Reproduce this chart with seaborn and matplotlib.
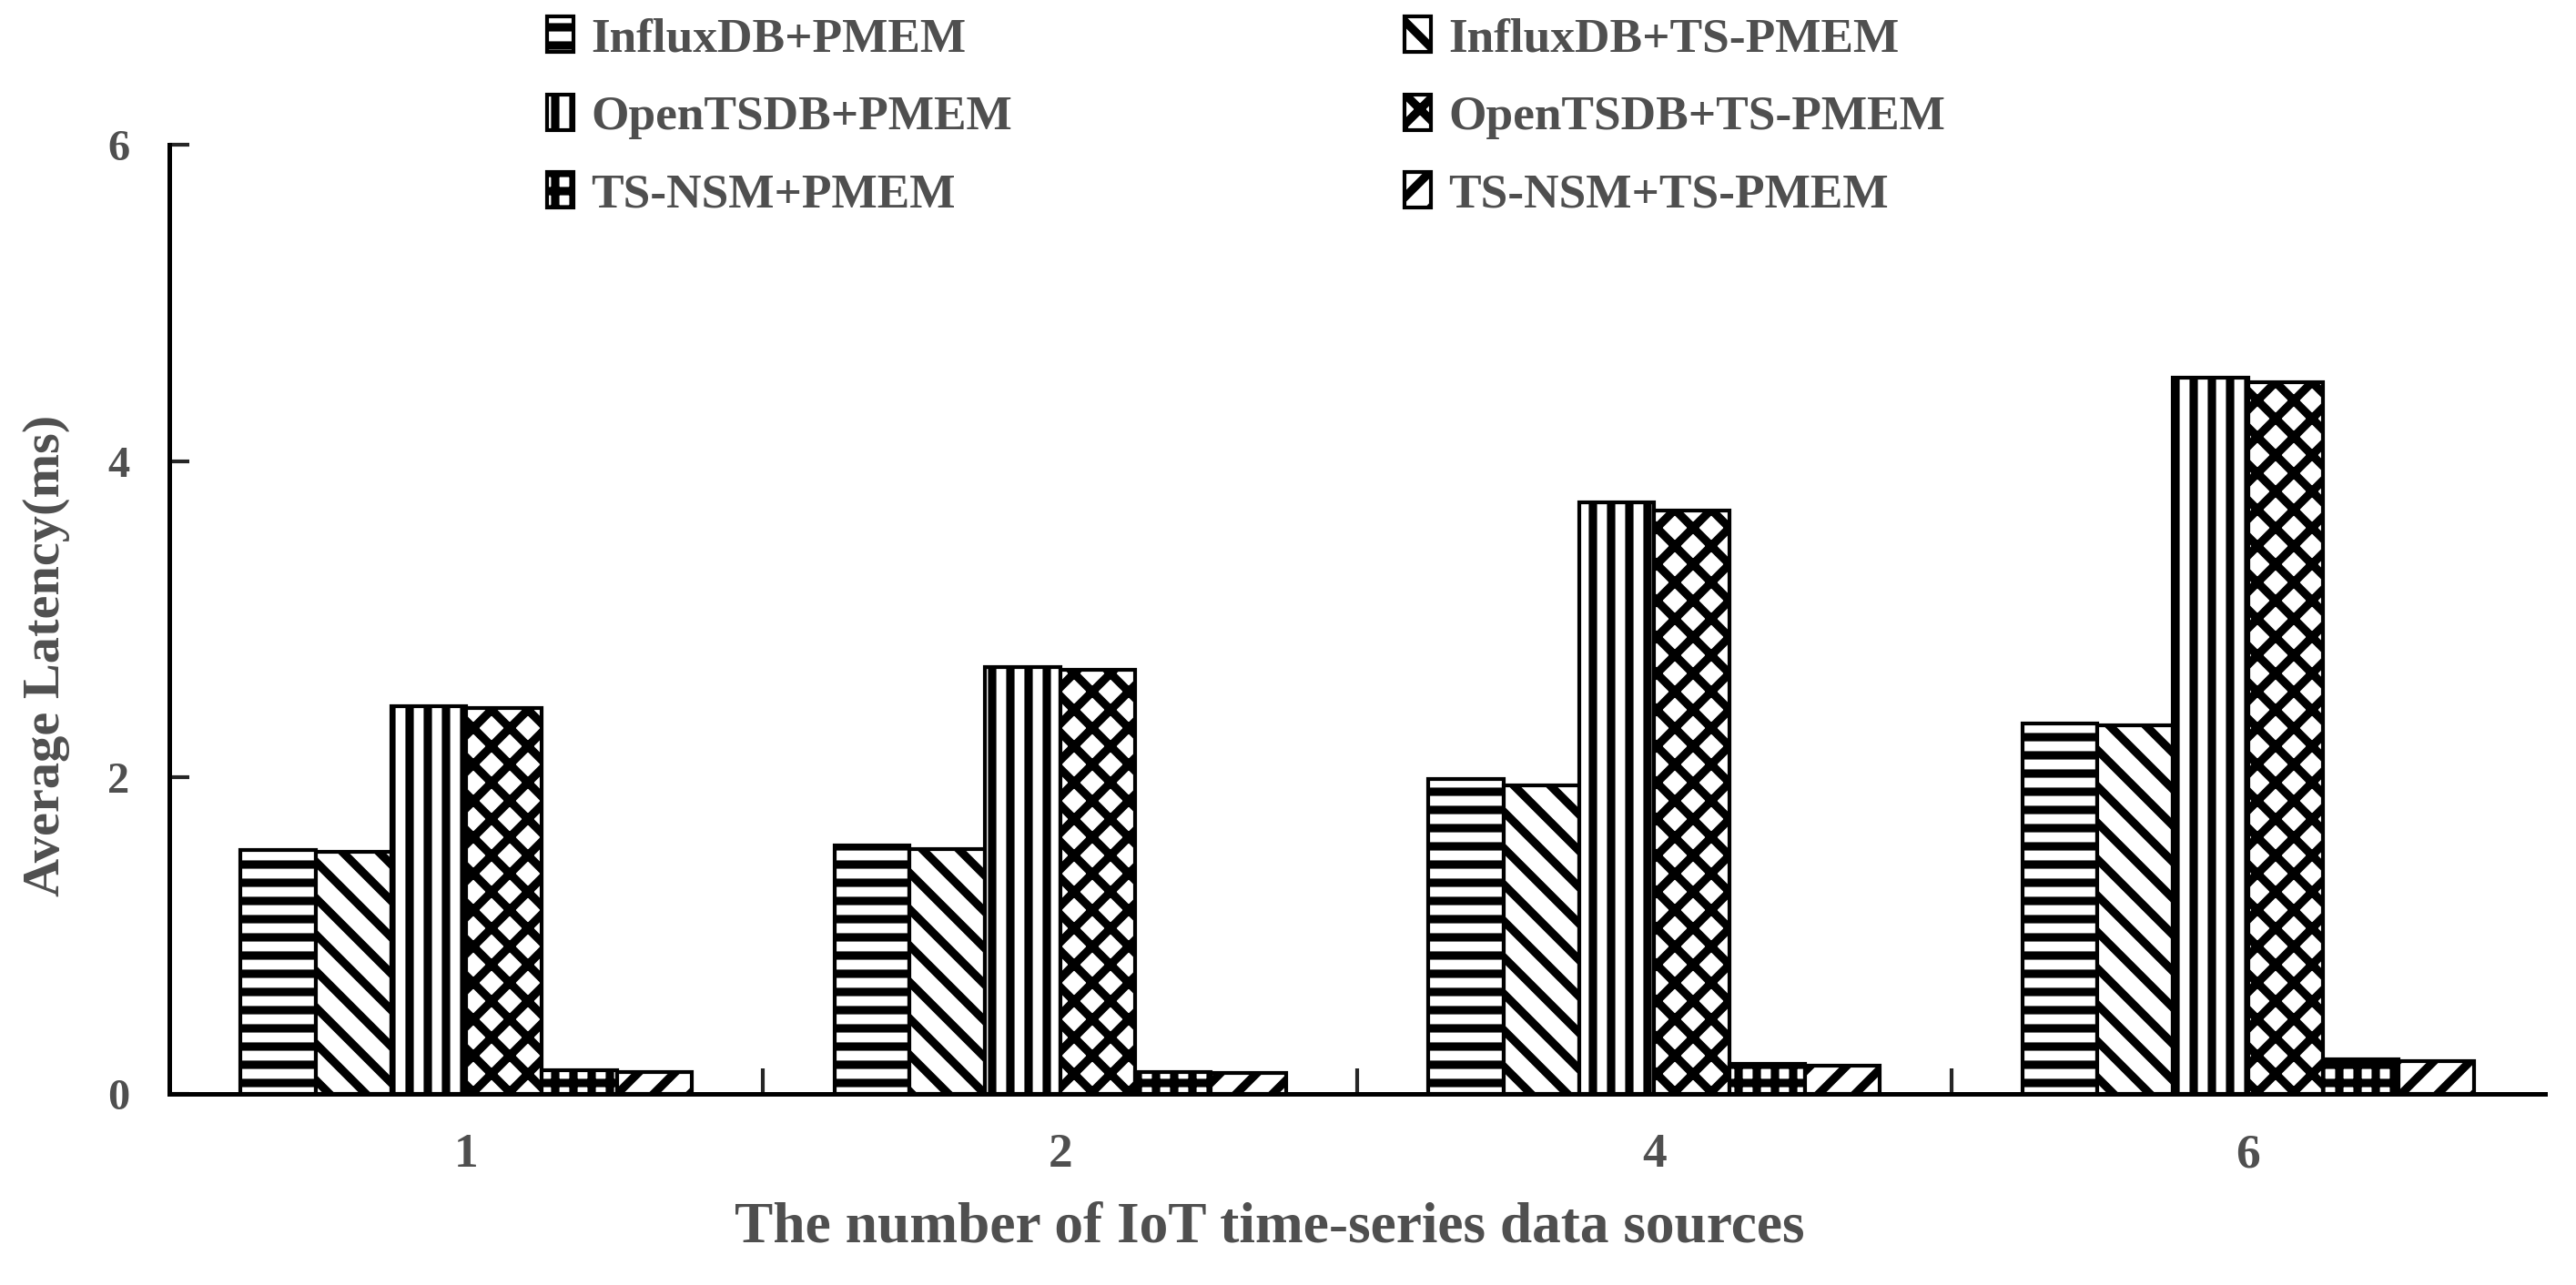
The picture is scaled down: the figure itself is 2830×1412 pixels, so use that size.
import seaborn as sns
import matplotlib.pyplot as plt
import matplotlib.patches as mpatches
import pandas as pd

# data
sources = ["1", "2", "4", "6"]
methods = ["InfluxDB+PMEM", "InfluxDB+TS-PMEM", "OpenTSDB+PMEM",
           "OpenTSDB+TS-PMEM", "TS-NSM+PMEM", "TS-NSM+TS-PMEM"]
influx_pmem = [1.54, 1.57, 1.99, 2.34]
influx_tspmem = [1.53, 1.55, 1.95, 2.33]
opentsdb_pmem = [2.45, 2.70, 3.74, 4.53]
opentsdb_tspmem = [2.44, 2.68, 3.69, 4.50]
tsnsm_pmem = [0.15, 0.14, 0.19, 0.22]
tsnsm_tspmem = [0.14, 0.13, 0.18, 0.21]
hatches = ["-", "\\", "|", "x", "+", "/"]

series = [influx_pmem, influx_tspmem, opentsdb_pmem,
          opentsdb_tspmem, tsnsm_pmem, tsnsm_tspmem]
rows = []
for m, vals in zip(methods, series):
    for s, v in zip(sources, vals):
        rows.append({"sources": s, "latency": v, "method": m})
df = pd.DataFrame(rows)

sns.set_style("ticks")
plt.rcParams["font.family"] = ["Liberation Serif", "DejaVu Serif"]
plt.rcParams["hatch.linewidth"] = 5.5
plt.rcParams["hatch.color"] = "black"
text_color = "#4f4f4f"

fig = plt.figure(figsize=(2830 / 120, 1412 / 120), dpi=120)
ax = fig.add_axes([0.0657, 0.1487, 0.9223, 0.7387])

sns.barplot(data=df, x="sources", y="latency", hue="method", order=sources,
            hue_order=methods, palette=["white"] * 6, width=0.76,
            edgecolor="black", linewidth=2.5, errorbar=None, ax=ax,
            legend=False)

for cont, h in zip(ax.containers, hatches):
    for bar in cont:
        bar.set_hatch(h)
        bar.set_edgecolor("black")

ax.set_xlim(-0.5, 3.5)
ax.set_ylim(0, 6)
ax.set_yticks([0, 2, 4, 6])
ax.set_yticklabels(["0", "2", "4", "6"], fontsize=29, fontweight="bold",
                   color=text_color)
ax.set_xticks(range(4))
ax.set_xticklabels(sources, fontsize=32, fontweight="bold", color=text_color)
ax.set_xticks([0.5, 1.5, 2.5], minor=True)
ax.tick_params(axis="x", which="major", length=0, pad=26)
ax.tick_params(axis="x", which="minor", direction="in", length=17, width=2.5)
ax.tick_params(axis="y", direction="in", length=13, width=2.5, pad=26)
ax.set_xlabel("")
ax.set_ylabel("")
sns.despine(ax=ax)
for sp in ["left", "bottom"]:
    ax.spines[sp].set_linewidth(3)
    ax.spines[sp].set_color("black")

fig.text(0.493, 0.044, "The number of IoT time-series data sources",
         ha="center", va="center", fontsize=38, fontweight="bold",
         color=text_color)
fig.text(0.018, 0.49, "Average Latency(ms)", rotation=90, ha="center",
         va="center", fontsize=35, fontweight="bold", color=text_color)

# legend: two columns placed like the reference
handles = [mpatches.Patch(facecolor="white", edgecolor="black", hatch=h,
                          linewidth=2.5) for h in hatches]
kw = dict(frameon=False, handlelength=0.55, handleheight=0.75,
          handletextpad=0.35, labelspacing=0.68, borderpad=0,
          borderaxespad=0, loc="upper left", labelcolor=text_color,
          prop={"weight": "bold", "size": 32})
leg1 = fig.legend([handles[0], handles[2], handles[4]],
                  [methods[0], methods[2], methods[4]],
                  bbox_to_anchor=(0.2124, 0.987), **kw)
leg2 = fig.legend([handles[1], handles[3], handles[5]],
                  [methods[1], methods[3], methods[5]],
                  bbox_to_anchor=(0.5452, 0.987), **kw)

plt.savefig("out.png", dpi=120)
